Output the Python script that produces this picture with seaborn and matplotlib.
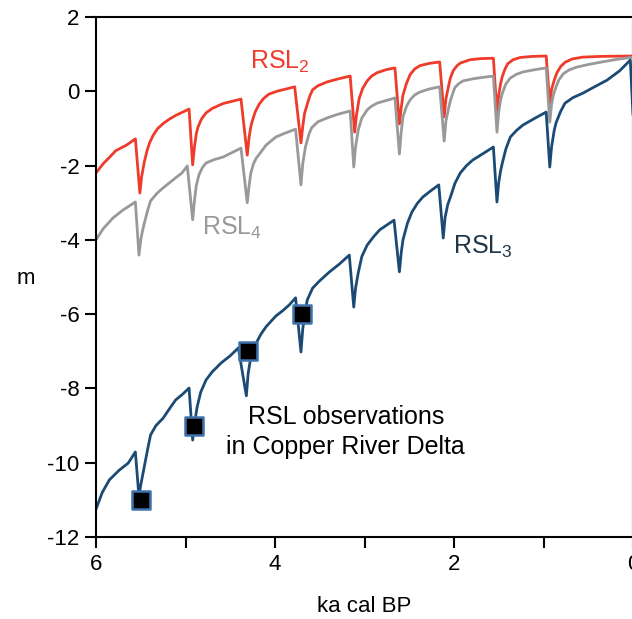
import matplotlib
matplotlib.use("Agg")
import matplotlib.pyplot as plt
from matplotlib.ticker import MultipleLocator
import seaborn as sns
import pandas as pd

# values (age in ka cal BP, level in m)
rsl2_age = [6.0, 5.92, 5.85, 5.78, 5.66, 5.56,
            5.51, 5.49, 5.46, 5.43, 5.40, 5.36, 5.31, 5.25, 5.18, 5.11, 5.04, 4.96,
            4.92, 4.90, 4.88, 4.86, 4.82, 4.77, 4.70, 4.58, 4.48, 4.38,
            4.31, 4.29, 4.27, 4.25, 4.22, 4.18, 4.13, 4.07, 3.98, 3.88, 3.78,
            3.71, 3.69, 3.67, 3.64, 3.61, 3.58, 3.52, 3.42, 3.30, 3.16,
            3.11, 3.09, 3.06, 3.02, 2.97, 2.92, 2.86, 2.76, 2.66,
            2.61, 2.59, 2.57, 2.53, 2.49, 2.44, 2.38, 2.28, 2.16,
            2.11, 2.09, 2.06, 2.04, 2.01, 1.97, 1.93, 1.82, 1.70, 1.56,
            1.52, 1.50, 1.48, 1.46, 1.43, 1.40, 1.34, 1.26, 1.12, 0.97,
            0.93, 0.91, 0.88, 0.85, 0.81, 0.76, 0.68, 0.56, 0.35, 0.0]
rsl2_m = [-2.2, -1.95, -1.78, -1.6, -1.45, -1.28,
          -2.74, -2.3, -1.9, -1.6, -1.38, -1.18, -1.0, -0.87, -0.75, -0.65, -0.57, -0.48,
          -1.98, -1.5, -1.15, -0.96, -0.74, -0.58, -0.46, -0.33, -0.27, -0.21,
          -1.72, -1.25, -0.95, -0.77, -0.55, -0.36, -0.2, -0.08, 0.0, 0.06, 0.12,
          -1.39, -0.95, -0.6, -0.35, -0.12, 0.04, 0.15, 0.25, 0.33, 0.41,
          -1.1, -0.65, -0.2, 0.08, 0.28, 0.41, 0.5, 0.58, 0.63,
          -0.88, -0.45, -0.1, 0.22, 0.45, 0.6, 0.69, 0.75, 0.79,
          -0.69, -0.2, 0.15, 0.36, 0.55, 0.68, 0.76, 0.85, 0.88, 0.89,
          -0.58, -0.1, 0.2, 0.4, 0.6, 0.74, 0.85, 0.91, 0.94, 0.95,
          -0.32, 0.05, 0.3, 0.5, 0.66, 0.78, 0.87, 0.92, 0.94, 0.95]

rsl4_age = [6.0, 5.92, 5.81, 5.70, 5.56,
            5.52, 5.50, 5.48, 5.46, 5.42, 5.39, 5.32, 5.25, 5.11, 5.04, 4.98,
            4.92, 4.90, 4.88, 4.85, 4.81, 4.77, 4.68, 4.58, 4.48, 4.38,
            4.31, 4.29, 4.27, 4.24, 4.21, 4.18, 4.10, 3.99, 3.88, 3.77,
            3.71, 3.69, 3.66, 3.62, 3.59, 3.52, 3.42, 3.30, 3.16,
            3.12, 3.10, 3.07, 3.03, 2.97, 2.92, 2.86, 2.76, 2.66,
            2.61, 2.59, 2.57, 2.53, 2.49, 2.44, 2.38, 2.28, 2.16,
            2.11, 2.09, 2.06, 2.04, 2.01, 1.99, 1.95, 1.90, 1.78, 1.66, 1.56,
            1.52, 1.50, 1.48, 1.46, 1.42, 1.37, 1.30, 1.23, 1.10, 0.97,
            0.93, 0.91, 0.89, 0.87, 0.83, 0.78, 0.71, 0.63, 0.50, 0.37, 0.18, 0.0]
rsl4_m = [-4.0, -3.7, -3.41, -3.2, -2.98,
          -4.41, -4.0, -3.75, -3.55, -3.18, -2.95, -2.75, -2.6, -2.33, -2.2, -2.01,
          -3.46, -2.95, -2.55, -2.25, -2.05, -1.93, -1.84, -1.77, -1.65, -1.53,
          -3.0, -2.55, -2.2, -1.95, -1.8, -1.71, -1.45, -1.23, -1.12, -1.02,
          -2.52, -1.95, -1.5, -1.15, -0.98, -0.82, -0.72, -0.62, -0.53,
          -2.04, -1.5, -1.04, -0.72, -0.5, -0.4, -0.32, -0.25, -0.18,
          -1.69, -1.1, -0.69, -0.4, -0.23, -0.1, -0.02, 0.06, 0.12,
          -1.34, -0.8, -0.45, -0.25, -0.03, 0.1, 0.2, 0.28, 0.34, 0.38, 0.41,
          -1.1, -0.55, -0.25, -0.05, 0.2, 0.36, 0.46, 0.52, 0.58, 0.63,
          -0.83, -0.35, -0.1, 0.05, 0.3, 0.47, 0.58, 0.65, 0.72, 0.78, 0.86, 0.92]

rsl3_age = [6.0, 5.93, 5.85, 5.74, 5.64, 5.56,
            5.52, 5.50, 5.48, 5.46, 5.42, 5.39, 5.33, 5.25, 5.18, 5.11, 5.03, 4.96,
            4.92, 4.90, 4.87, 4.83, 4.77, 4.70, 4.60, 4.50, 4.41,
            4.32, 4.30, 4.27, 4.24, 4.21, 4.16, 4.10, 4.04, 3.99, 3.91, 3.84, 3.77,
            3.71, 3.69, 3.66, 3.64, 3.58, 3.50, 3.39, 3.28, 3.17,
            3.12, 3.10, 3.07, 3.03, 2.97, 2.90, 2.83, 2.75, 2.67,
            2.61, 2.59, 2.57, 2.52, 2.47, 2.41, 2.35, 2.26, 2.17,
            2.12, 2.10, 2.07, 2.04, 1.99, 1.93, 1.86, 1.79, 1.67, 1.56,
            1.52, 1.50, 1.48, 1.46, 1.42, 1.37, 1.30, 1.23, 1.10, 0.97,
            0.93, 0.91, 0.88, 0.86, 0.81, 0.76, 0.67, 0.56, 0.43, 0.29, 0.15, 0.03, 0.0]
rsl3_m = [-11.25, -10.8, -10.46, -10.2, -10.01, -9.71,
          -10.92, -10.6, -10.35, -10.1, -9.6, -9.25, -9.0, -8.8, -8.55, -8.31, -8.15, -7.99,
          -9.39, -8.95, -8.5, -8.1, -7.77, -7.55, -7.31, -7.12, -6.91,
          -8.2, -7.6, -7.15, -6.92, -6.78, -6.55, -6.34, -6.18, -6.05, -5.9, -5.75, -5.56,
          -7.02, -6.4, -5.9, -5.62, -5.3, -5.1, -4.86, -4.65, -4.41,
          -5.81, -5.3, -4.89, -4.45, -4.14, -3.92, -3.73, -3.6, -3.47,
          -4.86, -4.35, -4.0, -3.55, -3.25, -3.02, -2.85, -2.68, -2.52,
          -3.95, -3.4, -3.05, -2.85, -2.48, -2.2, -2.0, -1.85, -1.67, -1.5,
          -2.98, -2.45, -2.15, -1.93, -1.55, -1.23, -1.05, -0.91, -0.73, -0.56,
          -2.04, -1.5, -1.05, -0.85, -0.55, -0.32, -0.17, -0.05, 0.12, 0.30, 0.55, 0.84, -0.64]

obs_age = [5.5, 4.9, 4.3, 3.7]
obs_m = [-11.0, -9.0, -7.0, -6.0]

red = "#ef3b2a"
grey = "#999999"
blue = "#1b4b75"

sns.set_theme(style="ticks")
plt.rcParams["font.family"] = ["Liberation Sans", "DejaVu Sans"]
plt.rcParams["mathtext.default"] = "regular"
plt.rcParams["axes.unicode_minus"] = False
for k in ["text.color", "axes.labelcolor", "xtick.color", "ytick.color", "axes.edgecolor"]:
    plt.rcParams[k] = "black"

fig = plt.figure(figsize=(6.32, 6.19), dpi=100)
ax = fig.add_axes([96 / 632, 1 - 537 / 619, 537 / 632, 520 / 619])

sns.lineplot(x=rsl2_age, y=rsl2_m, ax=ax, color=red, lw=2.0, sort=False, estimator=None)
sns.lineplot(x=rsl4_age, y=rsl4_m, ax=ax, color=grey, lw=2.0, sort=False, estimator=None)
sns.lineplot(x=rsl3_age, y=rsl3_m, ax=ax, color=blue, lw=2.0, sort=False, estimator=None)
obs = pd.DataFrame({"age": obs_age, "m": obs_m})
sns.scatterplot(data=obs, x="age", y="m", ax=ax, marker="s", s=160, color="black",
                edgecolor="#3f73ad", linewidth=1.8, zorder=5)

ax.set_xlim(6, 0)
ax.set_ylim(-12, 2)
ax.xaxis.set_major_locator(MultipleLocator(2))
ax.xaxis.set_minor_locator(MultipleLocator(1))
ax.yaxis.set_major_locator(MultipleLocator(2))
ax.tick_params(axis="both", which="both", direction="out", length=8, width=1.5,
               color="black", labelcolor="black", labelsize=16, pad=4)
for s in ax.spines.values():
    s.set_linewidth(1.5)

ax.set_xlabel("ka cal BP", fontsize=16)
ax.xaxis.set_label_coords(0.5, -0.113)
ax.set_ylabel("m", fontsize=16, rotation=0, ha="center", va="center")
ax.yaxis.set_label_coords(-0.13, 0.498)

ax.text(3.94, 0.79, "RSL$_2$", color=red, fontsize=18, ha="center", va="center")
ax.text(4.48, -3.68, "RSL$_4$", color=grey, fontsize=18, ha="center", va="center")
ax.text(1.68, -4.19, "RSL$_3$", color="#1f3548", fontsize=18, ha="center", va="center")
ax.text(3.21, -9.17, "RSL observations\nin Copper River Delta", color="black", fontsize=18,
        ha="center", va="center", linespacing=1.3)

fig.savefig("out.png", dpi=100)
